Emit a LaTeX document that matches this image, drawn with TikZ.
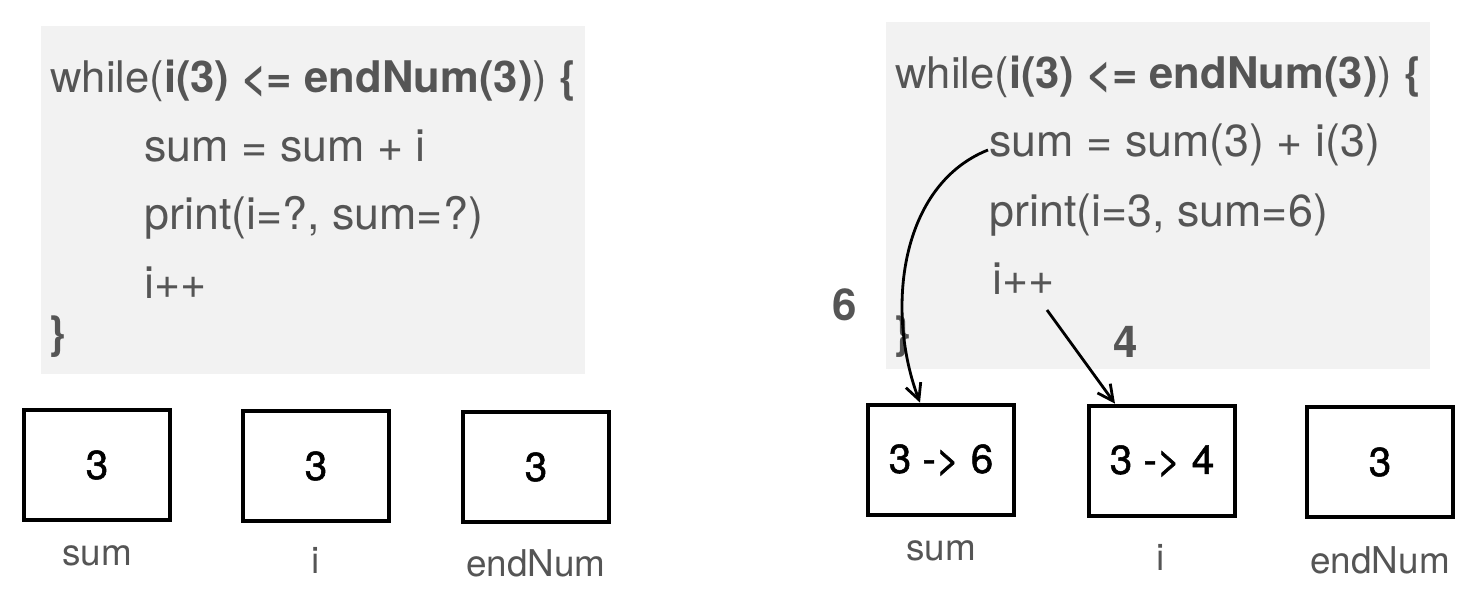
\documentclass[tikz,border=0pt]{standalone}
\usepackage{fontspec}
\setmainfont{TeX Gyre Heros}
\newfontfamily\medfont[FakeBold=1.3]{TeX Gyre Heros}
\usetikzlibrary{arrows.meta}
\definecolor{codegray}{HTML}{555555}
\definecolor{panelbg}{HTML}{F2F2F2}
\begin{document}
\begin{tikzpicture}[x=0.02cm,y=-0.02cm,
  code/.style={anchor=base west,inner sep=0pt,text=codegray,font=\fontsize{25.5}{30}\selectfont},
  codehead/.style={code,font=\fontsize{24.8}{30}\selectfont},
  varbox/.style={draw=black,line width=2.7pt,minimum width=2.92cm,minimum height=2.2cm,inner sep=0pt,font=\medfont\fontsize{23}{27}\selectfont},
  lbl/.style={text=codegray,font=\fontsize{21}{25}\selectfont,inner sep=0pt},
  num/.style={text=codegray,font=\fontsize{25}{30}\selectfont\bfseries,inner sep=0pt},
  arr/.style={line width=1.6pt,-{Straight Barb[length=9pt,width=9pt,line width=1.6pt]}}]
\useasboundingbox (0,0) rectangle (1480,599);
% left panel
\fill[panelbg] (41,26) rectangle (585,374);
\node[codehead] (lw) at (50,92) {while(\textbf{i(3) <= endNum(3)}) \textbf{\{}};
\node[code] (ls) at (144,161) {sum = sum + i};
\node[code] (lp) at (144,229) {print(i=?, sum=?)};
\node[code] (li) at (144,298) {i++};
\node[code] (lb) at (48,348) {\textbf{\}}};
\node[varbox] (lsum) at (97,465) {3};
\node[varbox] (li2) at (316,466) {3};
\node[varbox] (lend) at (536,467) {3};
\node[lbl] (lsuml) at (97,556) {sum};
\node[lbl] (lil) at (316,560) {i};
\node[lbl] (lendl) at (536,563) {endNum};
% right panel
\fill[panelbg] (886,22) rectangle (1430,369);
\node[codehead] (rw) at (895,88) {while(\textbf{i(3) <= endNum(3)}) \textbf{\{}};
\node[code] (rs) at (989,156) {sum = sum(3) + i(3)};
\node[code] (rp) at (989,226) {print(i=3, sum=6)};
\node[code] (ri) at (992,294) {i++};
\node[code] (rb) at (893,348) {\textbf{\}}};
\node[varbox] (rsum) at (941,460) {3 -> 6};
\node[varbox] (ri2) at (1162,461) {3 -> 4};
\node[varbox] (rend) at (1380,462) {3};
\node[lbl] (rsuml) at (941,551) {sum};
\node[lbl] (ril) at (1161,557) {i};
\node[lbl] (rendl) at (1380,560) {endNum};
\node[num] (six) at (845,305) {6};
\node[num] (four) at (1126,342) {4};
\coordinate (s1) at (988,150);
\coordinate (s2) at (1047,310);
\draw[arr] (s1) .. controls (900,185) and (885,310) .. (rsum.north -| 920,0);
\draw[arr] (s2) -- (ri2.north -| 1115,0);
\end{tikzpicture}
\end{document}
